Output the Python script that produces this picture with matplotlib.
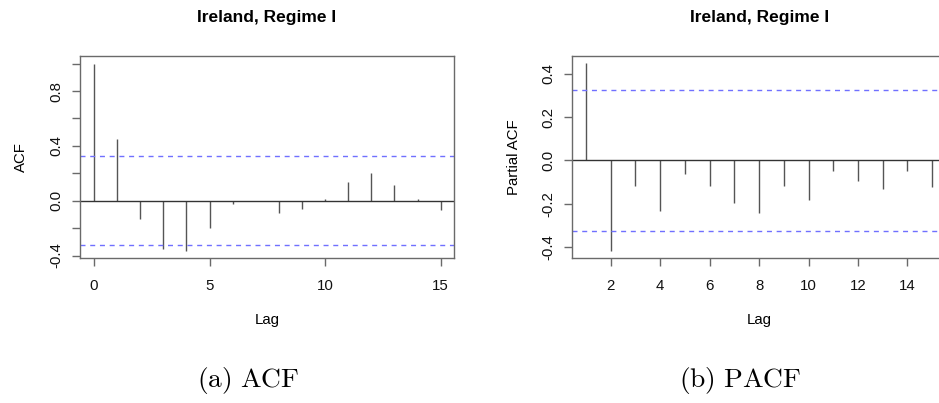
import matplotlib
matplotlib.use("Agg")
import matplotlib.pyplot as plt
import numpy as np

plt.rcParams['font.family'] = ['Liberation Sans', 'DejaVu Sans']
plt.rcParams['mathtext.fontset'] = 'cm'

# sample autocorrelations, lags 0..15
acf_lags = np.arange(0, 16)
acf_vals = [1.0, 0.45, -0.136, -0.35, -0.365, -0.20, -0.025, -0.005,
            -0.088, -0.063, 0.015, 0.139, 0.202, 0.112, 0.015, -0.068]

# partial autocorrelations, lags 1..15
pacf_lags = np.arange(1, 16)
pacf_vals = [0.448, -0.418, -0.117, -0.233, -0.063, -0.117, -0.199, -0.242,
             -0.12, -0.185, -0.051, -0.097, -0.134, -0.048, -0.125]

n_obs = 36
conf = 1.96 / np.sqrt(n_obs)

title = "Ireland, Regime I"
spike_col = '#555555'
frame_col = '#6a6a6a'
band_col = '#7070ff'
lab_size = 10.8

fig = plt.figure(figsize=(9.39, 4.03), dpi=100)
ax1 = fig.add_axes([80 / 939, 1 - 258 / 403, 374 / 939, 202 / 403])
ax2 = fig.add_axes([572.3 / 939, 1 - 258 / 403, 373.7 / 939, 202 / 403])


def draw_panel(ax, lags, vals, ylab, xlim, ylim, yticks, ylabels, xticks):
    ax.vlines(lags, 0, vals, color=spike_col, lw=1.0)
    ax.axhline(0, color='#333333', lw=1.0)
    for c in (conf, -conf):
        ax.axhline(c, color=band_col, lw=1.0, linestyle=(0, (3.6, 3.4)))
    ax.set_xlim(*xlim)
    ax.set_ylim(*ylim)
    ax.set_xticks(xticks)
    ax.set_yticks(yticks)
    ax.set_yticklabels(ylabels)
    for s in ax.spines.values():
        s.set_color(frame_col)
        s.set_linewidth(1.0)
    ax.tick_params(axis='both', length=6, width=1.0, color=frame_col,
                   labelsize=lab_size, labelcolor='#111111')
    ax.tick_params(axis='x', pad=9)
    ax.tick_params(axis='y', pad=6, labelrotation=90)
    for lab in ax.get_yticklabels():
        lab.set_va('center')
    ax.set_title(title, fontweight='bold', fontsize=12.5, y=1.168, pad=0)
    ax.set_xlabel("Lag", fontsize=lab_size, va='center')
    ax.set_ylabel(ylab, fontsize=lab_size, va='center')
    ax.xaxis.set_label_coords(0.5, -0.307)
    ax.yaxis.set_label_coords(-0.157, 0.5)


acf_ticks = np.arange(-0.4, 1.01, 0.2)
acf_ticklabels = ['-0.4', '', '0.0', '', '0.4', '', '0.8', '']
draw_panel(ax1, acf_lags, acf_vals, "ACF", (-0.61, 15.58), (-0.418, 1.056),
           acf_ticks, acf_ticklabels, [0, 5, 10, 15])

pacf_ticks = [-0.4, -0.2, 0.0, 0.2, 0.4]
draw_panel(ax2, pacf_lags, pacf_vals, "Partial ACF", (0.448, 15.56), (-0.451, 0.482),
           pacf_ticks, ['-0.4', '-0.2', '0.0', '0.2', '0.4'], list(range(2, 16, 2)))

fig.text(248 / 939, 1 - 381 / 403, r'$\mathrm{(a)\ ACF}$', fontsize=19.8,
         ha='center', va='center')
fig.text(740 / 939, 1 - 381 / 403, r'$\mathrm{(b)\ PACF}$', fontsize=19.8,
         ha='center', va='center')

fig.savefig("out.png", dpi=100)
